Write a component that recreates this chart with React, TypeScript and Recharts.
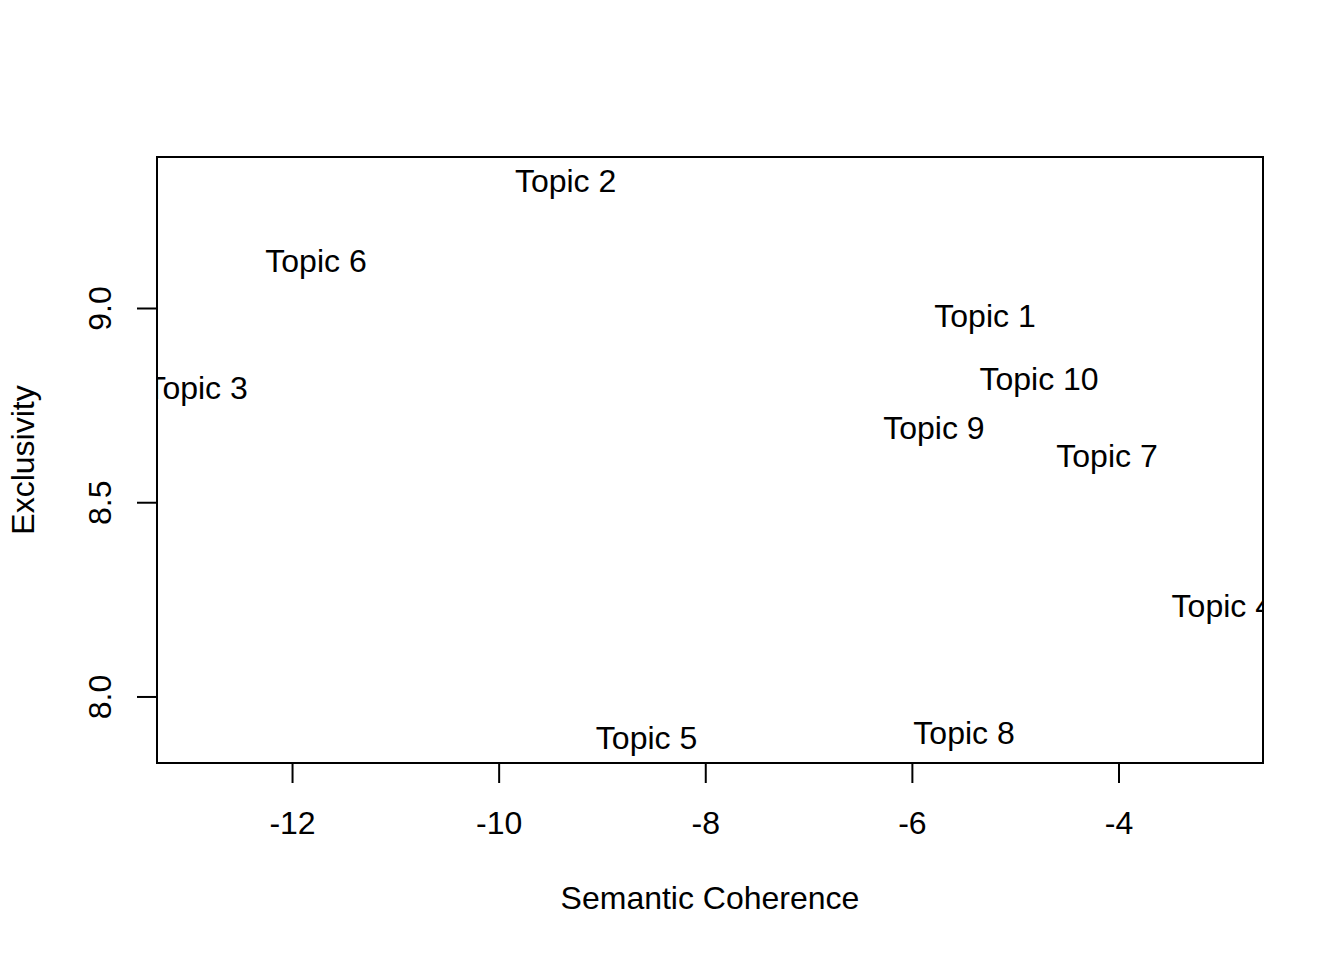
import React from 'react';
import { ScatterChart, Scatter, XAxis, YAxis, ReferenceArea, Label } from 'recharts';

const topics = ['Topic 1', 'Topic 2', 'Topic 3', 'Topic 4', 'Topic 5', 'Topic 6', 'Topic 7', 'Topic 8', 'Topic 9', 'Topic 10'];
const semanticCoherence = [-5.297, -9.357, -12.924, -3.0, -8.573, -11.773, -4.116, -5.5, -5.791, -4.774];
const exclusivity = [8.966, 9.314, 8.78, 8.219, 7.878, 9.107, 8.606, 7.892, 8.677, 8.802];

const xTicks = [-12, -10, -8, -6, -4];
const yTicks = [8.0, 8.5, 9.0];
const xDomain: [number, number] = [-13.312, -2.606];
const yDomain: [number, number] = [7.83, 9.39];

const data = topics.map((t, i) => ({ label: t, x: semanticCoherence[i], y: exclusivity[i] }));

const FONT = '"Liberation Sans", Arial, Helvetica, sans-serif';
const FS = 32;

const XTick = (props: any) => {
  const { x, y, payload } = props;
  return (
    <g>
      <line x1={x} x2={x} y1={y} y2={y + 20} stroke="#000" strokeWidth={2} />
      <text x={x} y={y + 71} textAnchor="middle" fontSize={FS} fontFamily={FONT} fill="#000">
        {String(payload.value)}
      </text>
    </g>
  );
};

const YTick = (props: any) => {
  const { x, y, payload } = props;
  const tx = x - 46;
  return (
    <g>
      <line x1={x - 20} x2={x} y1={y} y2={y} stroke="#000" strokeWidth={2} />
      <text x={tx} y={y} transform={`rotate(-90, ${tx}, ${y})`} textAnchor="middle" fontSize={FS} fontFamily={FONT} fill="#000">
        {Number(payload.value).toFixed(1)}
      </text>
    </g>
  );
};

const TopicText = (props: any) => {
  const { cx, cy, payload } = props;
  if (cx == null || cy == null) return null;
  return (
    <text x={cx} y={cy + 5} textAnchor="middle" fontSize={FS} fontFamily={FONT} fill="#000">
      {payload.label}
    </text>
  );
};

const XTitle = (props: any) => {
  const vb = props.viewBox || { x: 157, y: 763, width: 1106, height: 197 };
  return (
    <text x={vb.x + vb.width / 2} y={vb.y + 146} textAnchor="middle" fontSize={FS} fontFamily={FONT} fill="#000">
      Semantic Coherence
    </text>
  );
};

const YTitle = (props: any) => {
  const vb = props.viewBox || { x: 0, y: 157, width: 157, height: 606 };
  const tx = vb.x + 33.5;
  const ty = vb.y + vb.height / 2;
  return (
    <text x={tx} y={ty} transform={`rotate(-90, ${tx}, ${ty})`} textAnchor="middle" fontSize={FS} fontFamily={FONT} fill="#000">
      Exclusivity
    </text>
  );
};

export default function App() {
  return (
    <div style={{ position: 'absolute', left: 0, top: 0, width: 1344, height: 960, background: '#fff' }}>
      <ScatterChart width={1344} height={960} margin={{ top: 157, right: 81, bottom: 0, left: 0 }}>
        <XAxis
          type="number"
          dataKey="x"
          domain={xDomain}
          ticks={xTicks}
          interval={0}
          allowDataOverflow
          height={197}
          axisLine={false}
          tickLine={false}
          tickSize={0}
          tickMargin={0}
          tick={<XTick />}
        >
          <Label content={<XTitle />} />
        </XAxis>
        <YAxis
          type="number"
          dataKey="y"
          domain={yDomain}
          ticks={yTicks}
          interval={0}
          allowDataOverflow
          width={157}
          axisLine={false}
          tickLine={false}
          tickSize={0}
          tickMargin={0}
          tick={<YTick />}
        >
          <Label content={<YTitle />} />
        </YAxis>
        <Scatter data={data} isAnimationActive={false} shape={<TopicText />} />
        <ReferenceArea
          x1={xDomain[0]}
          x2={xDomain[1]}
          y1={yDomain[0]}
          y2={yDomain[1]}
          fill="none"
          fillOpacity={0}
          stroke="#000"
          strokeWidth={2}
          ifOverflow="visible"
        />
      </ScatterChart>
    </div>
  );
}
